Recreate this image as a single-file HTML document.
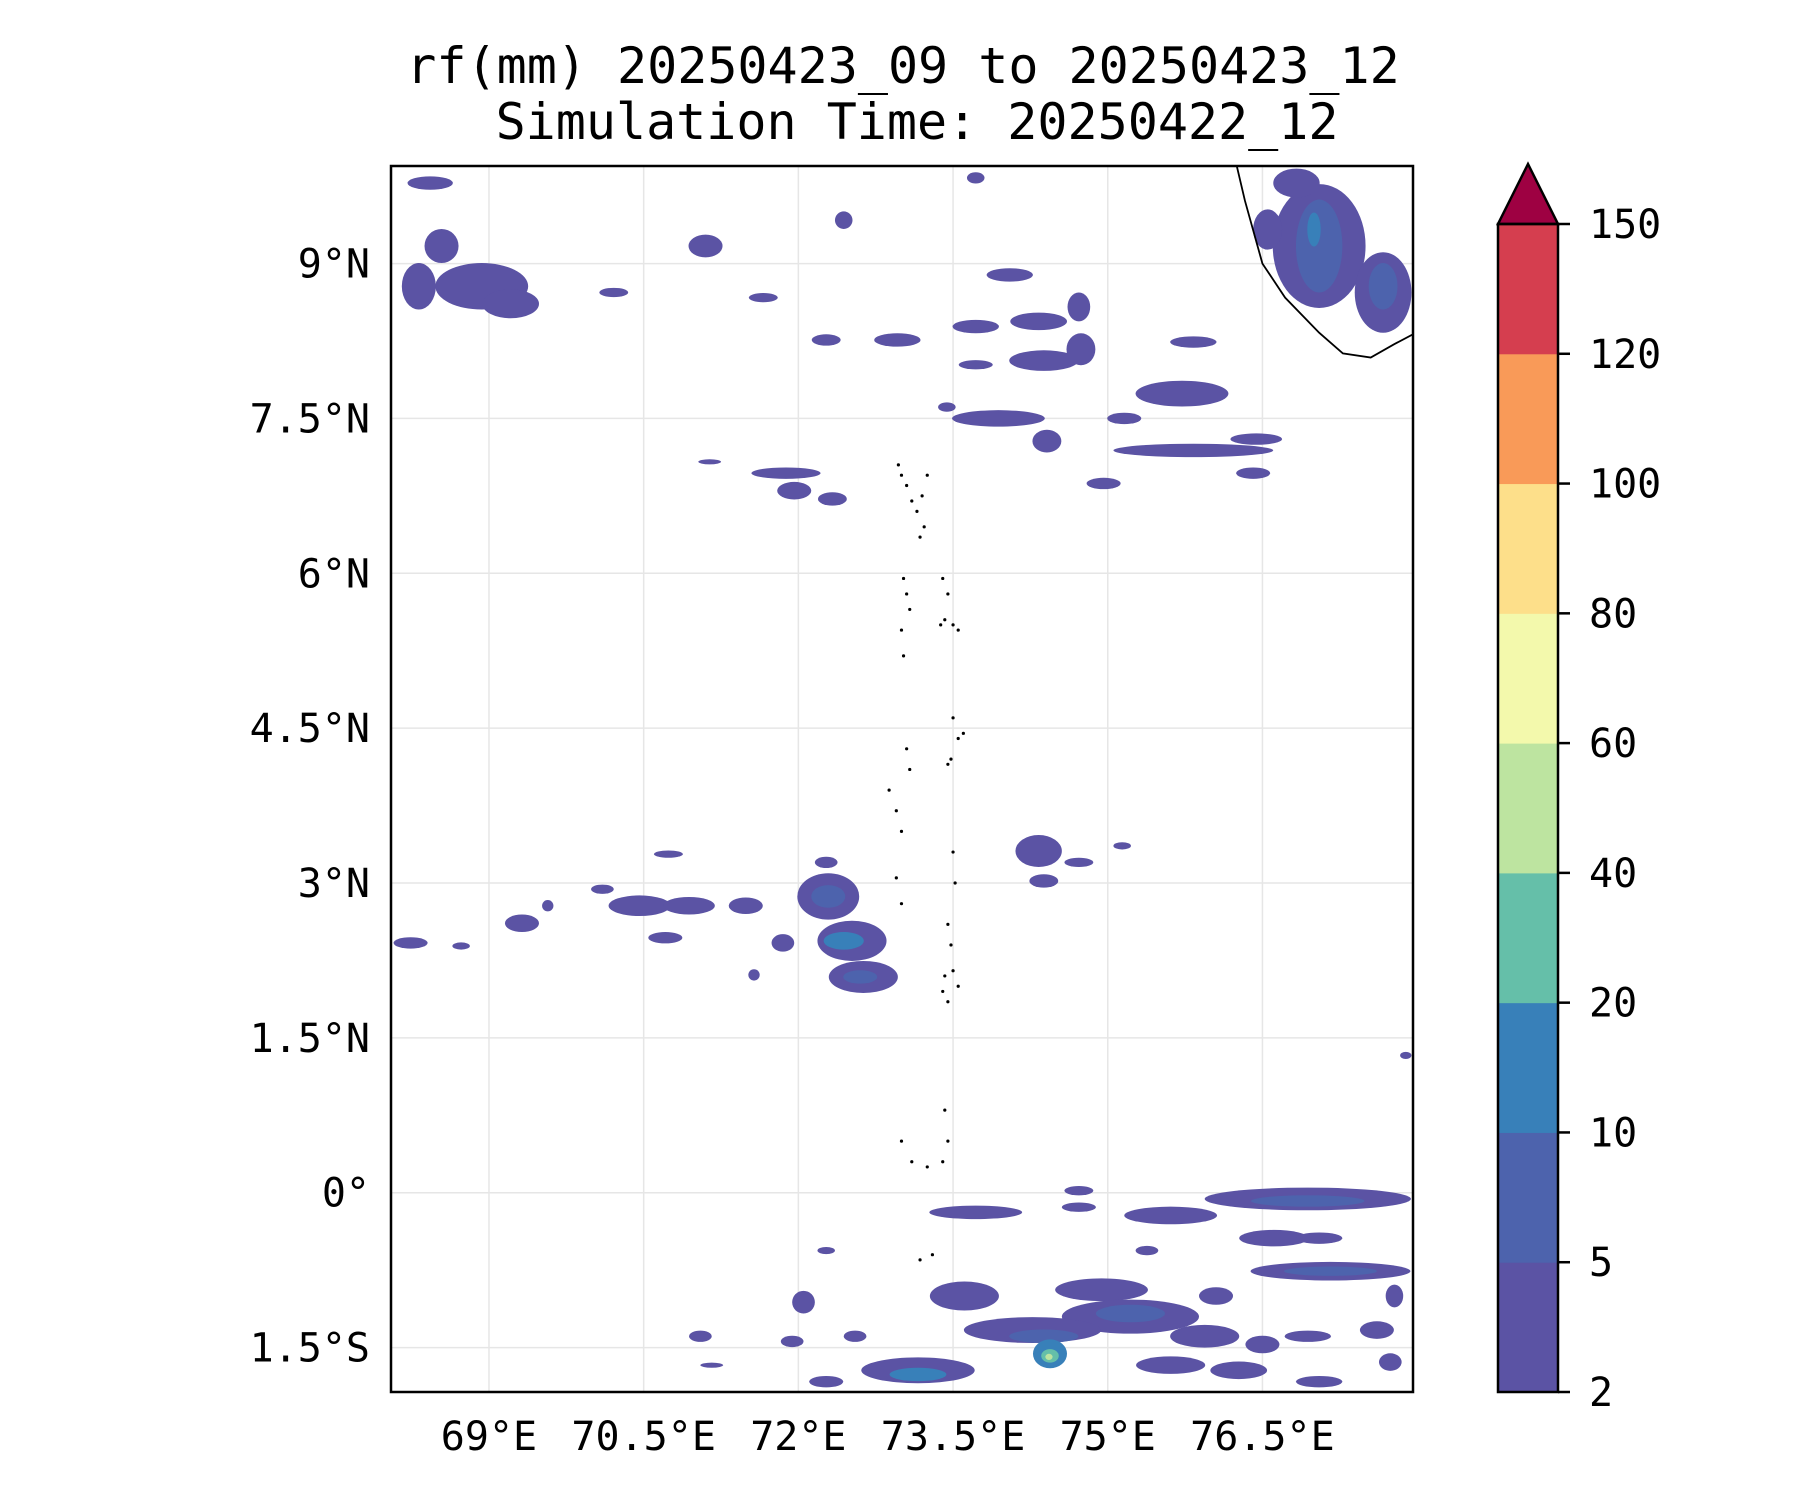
<!DOCTYPE html>
<html><head><meta charset="utf-8"><style>
html,body{margin:0;padding:0;background:#fff;}
svg{display:block;}
text{font-family:"DejaVu Sans Mono","Liberation Mono",monospace;fill:#000;}
</style></head><body>
<svg id="fig" width="1800" height="1500" viewBox="0 0 1800 1500" xmlns="http://www.w3.org/2000/svg">
<text x="903" y="83" font-size="50" text-anchor="middle">rf(mm) 20250423_09 to 20250423_12</text>
<text x="917" y="139" font-size="50" text-anchor="middle">Simulation Time: 20250422_12</text>
<defs><clipPath id="mapclip"><rect x="391" y="166" width="1022" height="1226"/></clipPath></defs>
<g id="grid"></g>
<g id="rain" clip-path="url(#mapclip)"></g>
<g id="coast" clip-path="url(#mapclip)"></g>
<rect x="391" y="166" width="1022" height="1226" fill="none" stroke="#000" stroke-width="2.5"/>
<g id="xaxis"></g>
<g id="yaxis"></g>
<g id="cbar"></g>
</svg>
<script>
const levels=[2,5,10,20,40,60,80,100,120,150];
const levelColors=["#5b53a4","#4d63ad","#3880b9","#65bfa9","#bde4a0","#f3f9ac","#fddf8a","#f99a58","#d53e4f"];
const extendColor="#9e0142";
const lonTicks=[69,70.5,72,73.5,75,76.5];
const lonTickLabels=["69°E","70.5°E","72°E","73.5°E","75°E","76.5°E"];
const latTicks=[9,7.5,6,4.5,3,1.5,0,-1.5];
const latTickLabels=["9°N","7.5°N","6°N","4.5°N","3°N","1.5°N","0°","1.5°S"];
// rain cells: centre lon, lat, width deg, height deg, level index
const blobLon=[68.43,68.93,68.54,68.32,69.21,71.10,72.44,70.21,71.66,72.27,72.96,73.72,74.05,74.72,73.72,74.33,74.38,74.74,75.83,73.72,75.72,73.94,73.44,74.41,75.16,75.83,76.44,74.96,76.41,71.88,71.96,72.33,71.14,77.05,77.05,77.0,77.67,77.67,76.55,76.83,70.74,70.46,70.94,71.49,72.29,72.29,72.52,72.44,72.63,72.6,71.85,71.57,72.27,69.32,69.57,68.24,68.73,70.71,70.1,74.33,74.72,74.38,75.14,77.89,76.94,76.94,75.61,73.72,74.72,74.72,76.61,77.16,77.16,74.94,75.22,75.22,74.27,74.38,74.44,74.44,74.43,73.16,73.16,73.61,72.05,72.55,71.05,71.94,75.94,76.5,76.94,77.61,75.61,76.27,77.05,77.74,72.27,72.27,71.16,76.05,77.78,77.05,75.38];
const blobLat=[9.78,8.78,9.17,8.78,8.61,9.17,9.42,8.72,8.67,8.26,8.26,9.83,8.89,8.58,8.39,8.44,8.06,8.17,8.24,8.02,7.74,7.5,7.61,7.28,7.5,7.19,7.3,6.87,6.97,6.97,6.8,6.72,7.08,9.17,9.17,9.33,8.72,8.78,9.33,9.78,3.28,2.78,2.78,2.78,2.87,2.87,2.44,2.44,2.09,2.09,2.42,2.11,3.2,2.61,2.78,2.42,2.39,2.47,2.94,3.31,3.2,3.02,3.36,1.33,-0.06,-0.08,-0.22,-0.19,-0.14,0.02,-0.44,-0.76,-0.76,-0.94,-1.2,-1.17,-1.33,-1.39,-1.56,-1.58,-1.59,-1.72,-1.76,-1.0,-1.06,-1.39,-1.39,-1.44,-1.39,-1.47,-1.39,-1.33,-1.67,-1.72,-1.83,-1.64,-0.56,-1.83,-1.67,-1.0,-1.0,-0.44,-0.56];
const blobW=[.44,.9,.33,.33,.55,.33,.17,.28,.28,.28,.45,.17,.45,.22,.45,.55,.67,.28,.45,.33,.9,.9,.17,.28,.33,1.55,.5,.33,.33,.67,.33,.28,.22,.9,.45,.13,.55,.28,.28,.45,.28,.6,.5,.33,.6,.33,.67,.39,.67,.33,.22,.11,.22,.33,.11,.33,.17,.33,.22,.45,.28,.28,.17,.11,2.0,1.1,.9,.9,.33,.28,.67,1.55,.9,.9,1.33,.67,1.33,.67,.33,.17,.07,1.1,.55,.67,.22,.22,.22,.22,.67,.33,.45,.33,.67,.55,.45,.22,.17,.33,.22,.33,.17,.45,.22];
const blobH=[.13,.45,.33,.45,.28,.22,.17,.09,.09,.11,.13,.11,.13,.28,.13,.17,.2,.31,.11,.09,.25,.16,.09,.22,.11,.13,.11,.11,.11,.11,.17,.13,.05,1.2,.9,.33,.78,.45,.39,.28,.07,.2,.17,.16,.45,.22,.39,.17,.31,.13,.17,.11,.11,.17,.11,.11,.07,.11,.09,.31,.09,.13,.07,.07,.22,.11,.17,.13,.09,.09,.16,.18,.09,.22,.33,.17,.25,.13,.28,.13,.06,.25,.13,.28,.22,.11,.11,.11,.22,.17,.11,.17,.17,.17,.11,.17,.07,.11,.05,.17,.22,.11,.09];
const blobLevel=[0,0,0,0,0,0,0,0,0,0,0,0,0,0,0,0,0,0,0,0,0,0,0,0,0,0,0,0,0,0,0,0,0,0,1,2,0,1,0,0,0,0,0,0,0,1,0,2,0,1,0,0,0,0,0,0,0,0,0,0,0,0,0,0,0,1,0,0,0,0,0,0,1,0,0,1,0,1,2,3,4,0,2,0,0,0,0,0,0,0,0,0,0,0,0,0,0,0,0,0,0,0,0];
const coastLon=[76.25,76.33,76.5,76.72,77.05,77.28,77.55,77.78,77.95,78.1];
const coastLat=[9.95,9.61,9.0,8.67,8.33,8.13,8.09,8.22,8.31,8.35];
const islandLon=[72.97,73.0,73.05,73.1,73.15,73.2,73.25,73.22,73.18,73.02,73.05,73.08,73.0,73.02,73.4,73.45,73.42,73.5,73.55,73.38,73.05,73.08,73.5,73.55,73.48,73.45,73.6,72.88,72.95,73.0,72.95,73.0,73.5,73.52,73.45,73.48,73.42,73.4,73.45,73.55,73.5,73.0,73.1,73.25,73.4,73.45,73.42,73.3,73.18];
const islandLat=[7.05,6.95,6.85,6.7,6.6,6.75,6.95,6.45,6.35,5.95,5.8,5.65,5.45,5.2,5.95,5.8,5.55,5.5,5.45,5.5,4.3,4.1,4.6,4.4,4.2,4.15,4.45,3.9,3.7,3.5,3.05,2.8,3.3,3.0,2.6,2.4,2.1,1.95,1.85,2.0,2.15,0.5,0.3,0.25,0.3,0.5,0.8,-0.6,-0.65];

const X0=391,X1=1413,Y0=166,Y1=1392,LON0=68.05,LON1=77.96,LAT0=-1.93,LAT1=9.945;
const lx=l=>X0+(l-LON0)/(LON1-LON0)*(X1-X0);
const ly=l=>Y0+(LAT1-l)/(LAT1-LAT0)*(Y1-Y0);
const NS="http://www.w3.org/2000/svg";
function mk(tag,attrs,parent){const e=document.createElementNS(NS,tag);for(const k in attrs)e.setAttribute(k,attrs[k]);parent.appendChild(e);return e;}
const grid=document.getElementById('grid'),rain=document.getElementById('rain'),coast=document.getElementById('coast');
const xa=document.getElementById('xaxis'),ya=document.getElementById('yaxis'),cb=document.getElementById('cbar');
lonTicks.forEach((t,i)=>{const x=lx(t);
 const g=mk('line',{x1:x,x2:x,y1:Y0,y2:Y1,stroke:'#e6e6e6','stroke-width':1.5},grid);
 
 
 const tx=mk('text',{x:x,y:1450,'font-size':40,'text-anchor':'middle'},xa);tx.textContent=lonTickLabels[i];
 
 
});
latTicks.forEach((t,i)=>{const y=ly(t);
 const g=mk('line',{x1:X0,x2:X1,y1:y,y2:y,stroke:'#e6e6e6','stroke-width':1.5},grid);
 
 
 const tx=mk('text',{x:370,y:y+14,'font-size':40,'text-anchor':'end'},ya);tx.textContent=latTickLabels[i];
 
 
});
for(let lev=0;lev<levelColors.length;lev++){
 blobLon.forEach((lo,i)=>{ if(blobLevel[i]!==lev)return;
  const e=mk('ellipse',{cx:lx(lo),cy:ly(blobLat[i]),rx:blobW[i]/2/(LON1-LON0)*(X1-X0),ry:blobH[i]/2/(LAT1-LAT0)*(Y1-Y0),fill:levelColors[lev]},rain);
  
  
 });
}
const cp=mk('polyline',{points:coastLon.map((l,i)=>lx(l)+','+ly(coastLat[i])).join(' '),fill:'none',stroke:'#000','stroke-width':1.8},coast);


islandLon.forEach((l,i)=>{const d=mk('circle',{cx:lx(l),cy:ly(islandLat[i]),r:1.6,fill:'#000'},coast);
 
 });
const CX=1498,CW=60,CT=224,CB=1392,n=levels.length-1,seg=(CB-CT)/n;
levelColors.forEach((c,i)=>{const r=mk('rect',{x:CX,y:CB-(i+1)*seg,width:CW,height:seg+0.5,fill:c},cb);
 
 });
const tri=mk('polygon',{points:`${CX},${CT} ${CX+CW},${CT} ${CX+CW/2},${164}`,fill:extendColor,stroke:'#000','stroke-width':2.5},cb);


mk('rect',{x:CX,y:CT,width:CW,height:CB-CT,fill:'none',stroke:'#000','stroke-width':2.5},cb);
levels.forEach((v,i)=>{const y=CB-i*seg;
 mk('line',{x1:CX+CW,x2:CX+CW+12,y1:y,y2:y,stroke:'#000','stroke-width':2.5},cb);
 const t=mk('text',{x:1589,y:y+14,'font-size':40},cb);t.textContent=v;
 
 
});
</script>
</body></html>
